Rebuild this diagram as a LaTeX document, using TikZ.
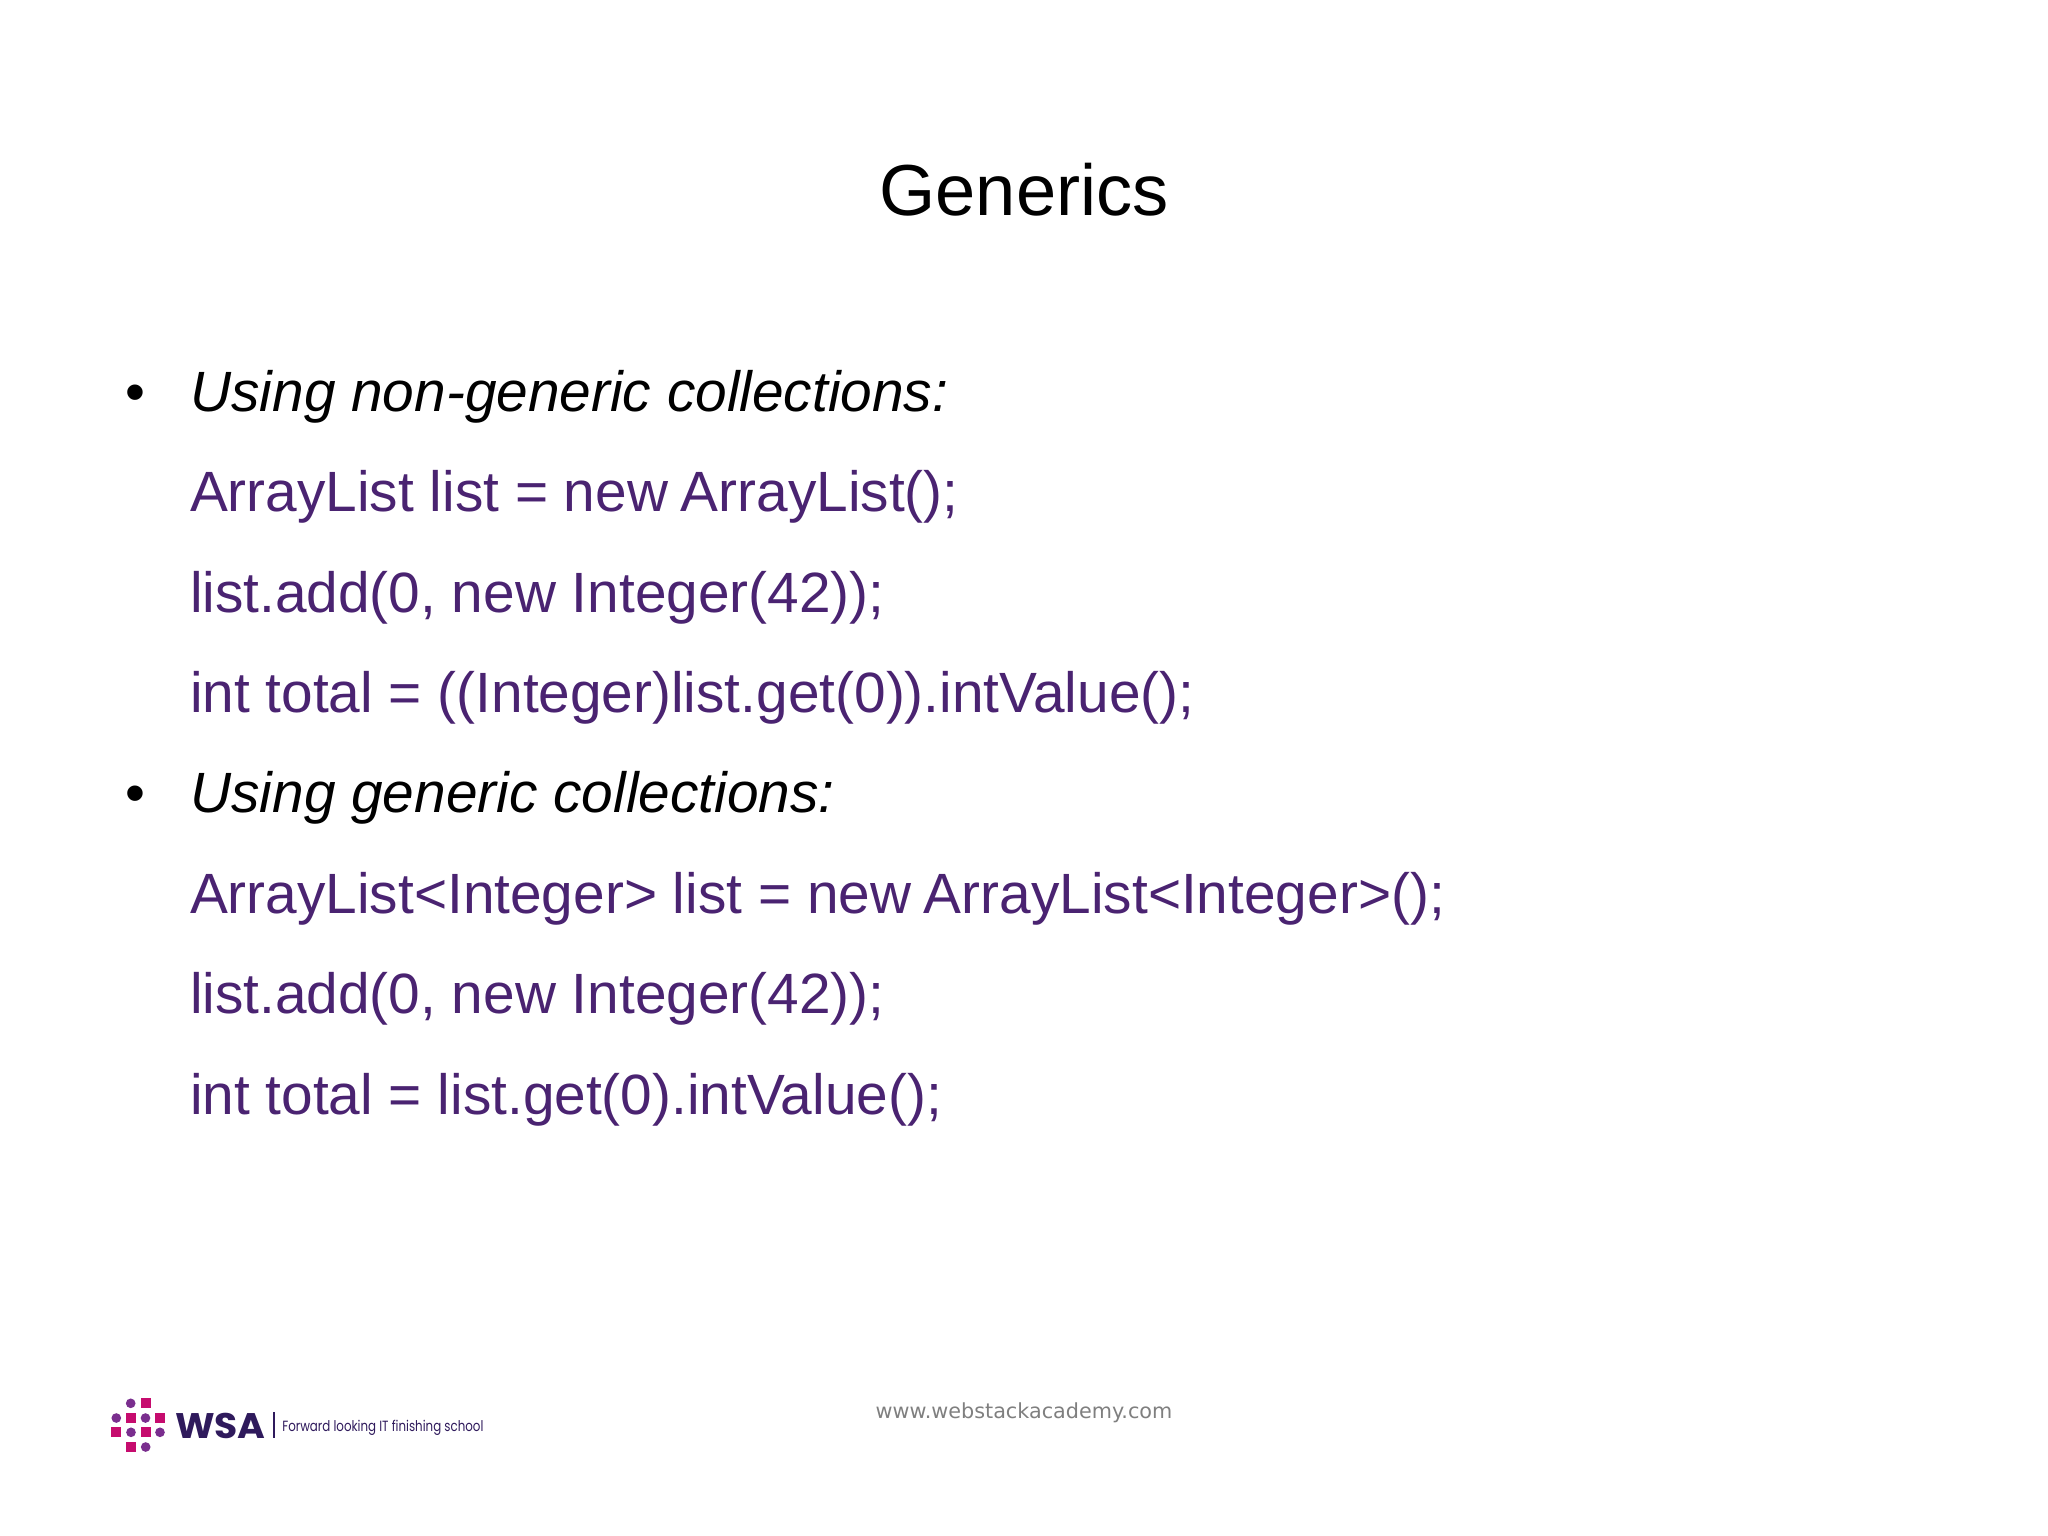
\documentclass[tikz,border=0pt]{standalone}
\usepackage{fontspec}
\setmainfont{Liberation Sans}
\newfontfamily\footfont{DejaVu Sans}
\newfontfamily\logofont{Poppins}
\definecolor{codepurple}{HTML}{4A2371}
\definecolor{footgray}{HTML}{7F7F7F}
\definecolor{logopink}{HTML}{C60C6E}
\definecolor{logoviolet}{HTML}{7A2E8E}
\definecolor{logoink}{HTML}{2F1A5C}
\tikzset{
	slidetext/.style={anchor=base west,inner sep=0,outer sep=0},
	headtext/.style={slidetext,font=\itshape\fontsize{19.97}{24}\selectfont},
	codetext/.style={slidetext,text=codepurple,font=\fontsize{19.97}{24}\selectfont},
	dotmark/.style={slidetext,font=\fontsize{19.97}{24}\selectfont},
	logosq/.style={rectangle,fill=logopink,inner sep=0,outer sep=0,minimum size=3.6pt},
	logodot/.style={circle,fill=logoviolet,inner sep=0,outer sep=0,minimum size=3.4pt},
}

\begin{document}
\begin{tikzpicture}[x=0.3516pt,y=-0.3516pt]
	\useasboundingbox (0,0) rectangle (2048,1535);
	\node[inner sep=0,outer sep=0,anchor=base,font=\fontsize{25.4}{30}\selectfont] (title) at (1024,215) {Generics};
	\node[dotmark] (bullet1) at (125,411) {•};
	\node[headtext] (head1) at (190.5,411) {Using non-generic collections:};
	\node[codetext] (code1) at (190,511) {ArrayList list = new\kern-0.055em\ ArrayList();};
	\node[codetext] (code2) at (190,612) {list.add(0, new Integer(42));};
	\node[codetext] (code3) at (190,712) {int total = ((Integer)list.get(0)).intValue();};
	\node[dotmark] (bullet2) at (125,812) {•};
	\node[headtext] (head2) at (190.5,812) {Using generic collections:};
	\node[codetext] (code4) at (190,913) {ArrayList<Integer> list = new\kern-0.055em\ ArrayList<Integer>();};
	\node[codetext] (code5) at (190,1013) {list.add(0, new Integer(42));};
	\node[codetext] (code6) at (190,1114) {int total = list.get(0).intValue();};
	\node[inner sep=0,outer sep=0,anchor=base,text=footgray,font=\footfont\fontsize{7.3}{10}\selectfont] (site) at (1024,1418) {www.webstackacademy.com};
	\node[logodot] (d1) at (130.7,1403.3) {};
	\node[logosq] (s1) at (145.7,1403.3) {};
	\node[logodot] (d2) at (116.3,1418) {};
	\node[logosq] (s2) at (131,1418) {};
	\node[logodot] (d3) at (145.5,1418) {};
	\node[logosq] (s3) at (160,1418) {};
	\node[logosq] (s4) at (116.3,1432.3) {};
	\node[logodot] (d4) at (131,1432.3) {};
	\node[logosq] (s5) at (145.7,1432.3) {};
	\node[logodot] (d5) at (160,1432.3) {};
	\node[logosq] (s6) at (131,1447) {};
	\node[logodot] (d6) at (145.7,1447) {};
	\node[slidetext,text=logoink,font=\logofont\fontsize{12.5}{14}\selectfont\bfseries] (wsa) at (175,1438) {\scalebox{1.06}[1]{WSA}};
	\draw[logoink,line width=0.5pt] (274,1412) -- (274,1438);
	\node[slidetext,text=logoink,font=\logofont\fontsize{5.2}{7}\selectfont] (tagline) at (282.3,1431.7) {\scalebox{0.8}[1]{Forward looking IT finishing school}};
\end{tikzpicture}
\end{document}
